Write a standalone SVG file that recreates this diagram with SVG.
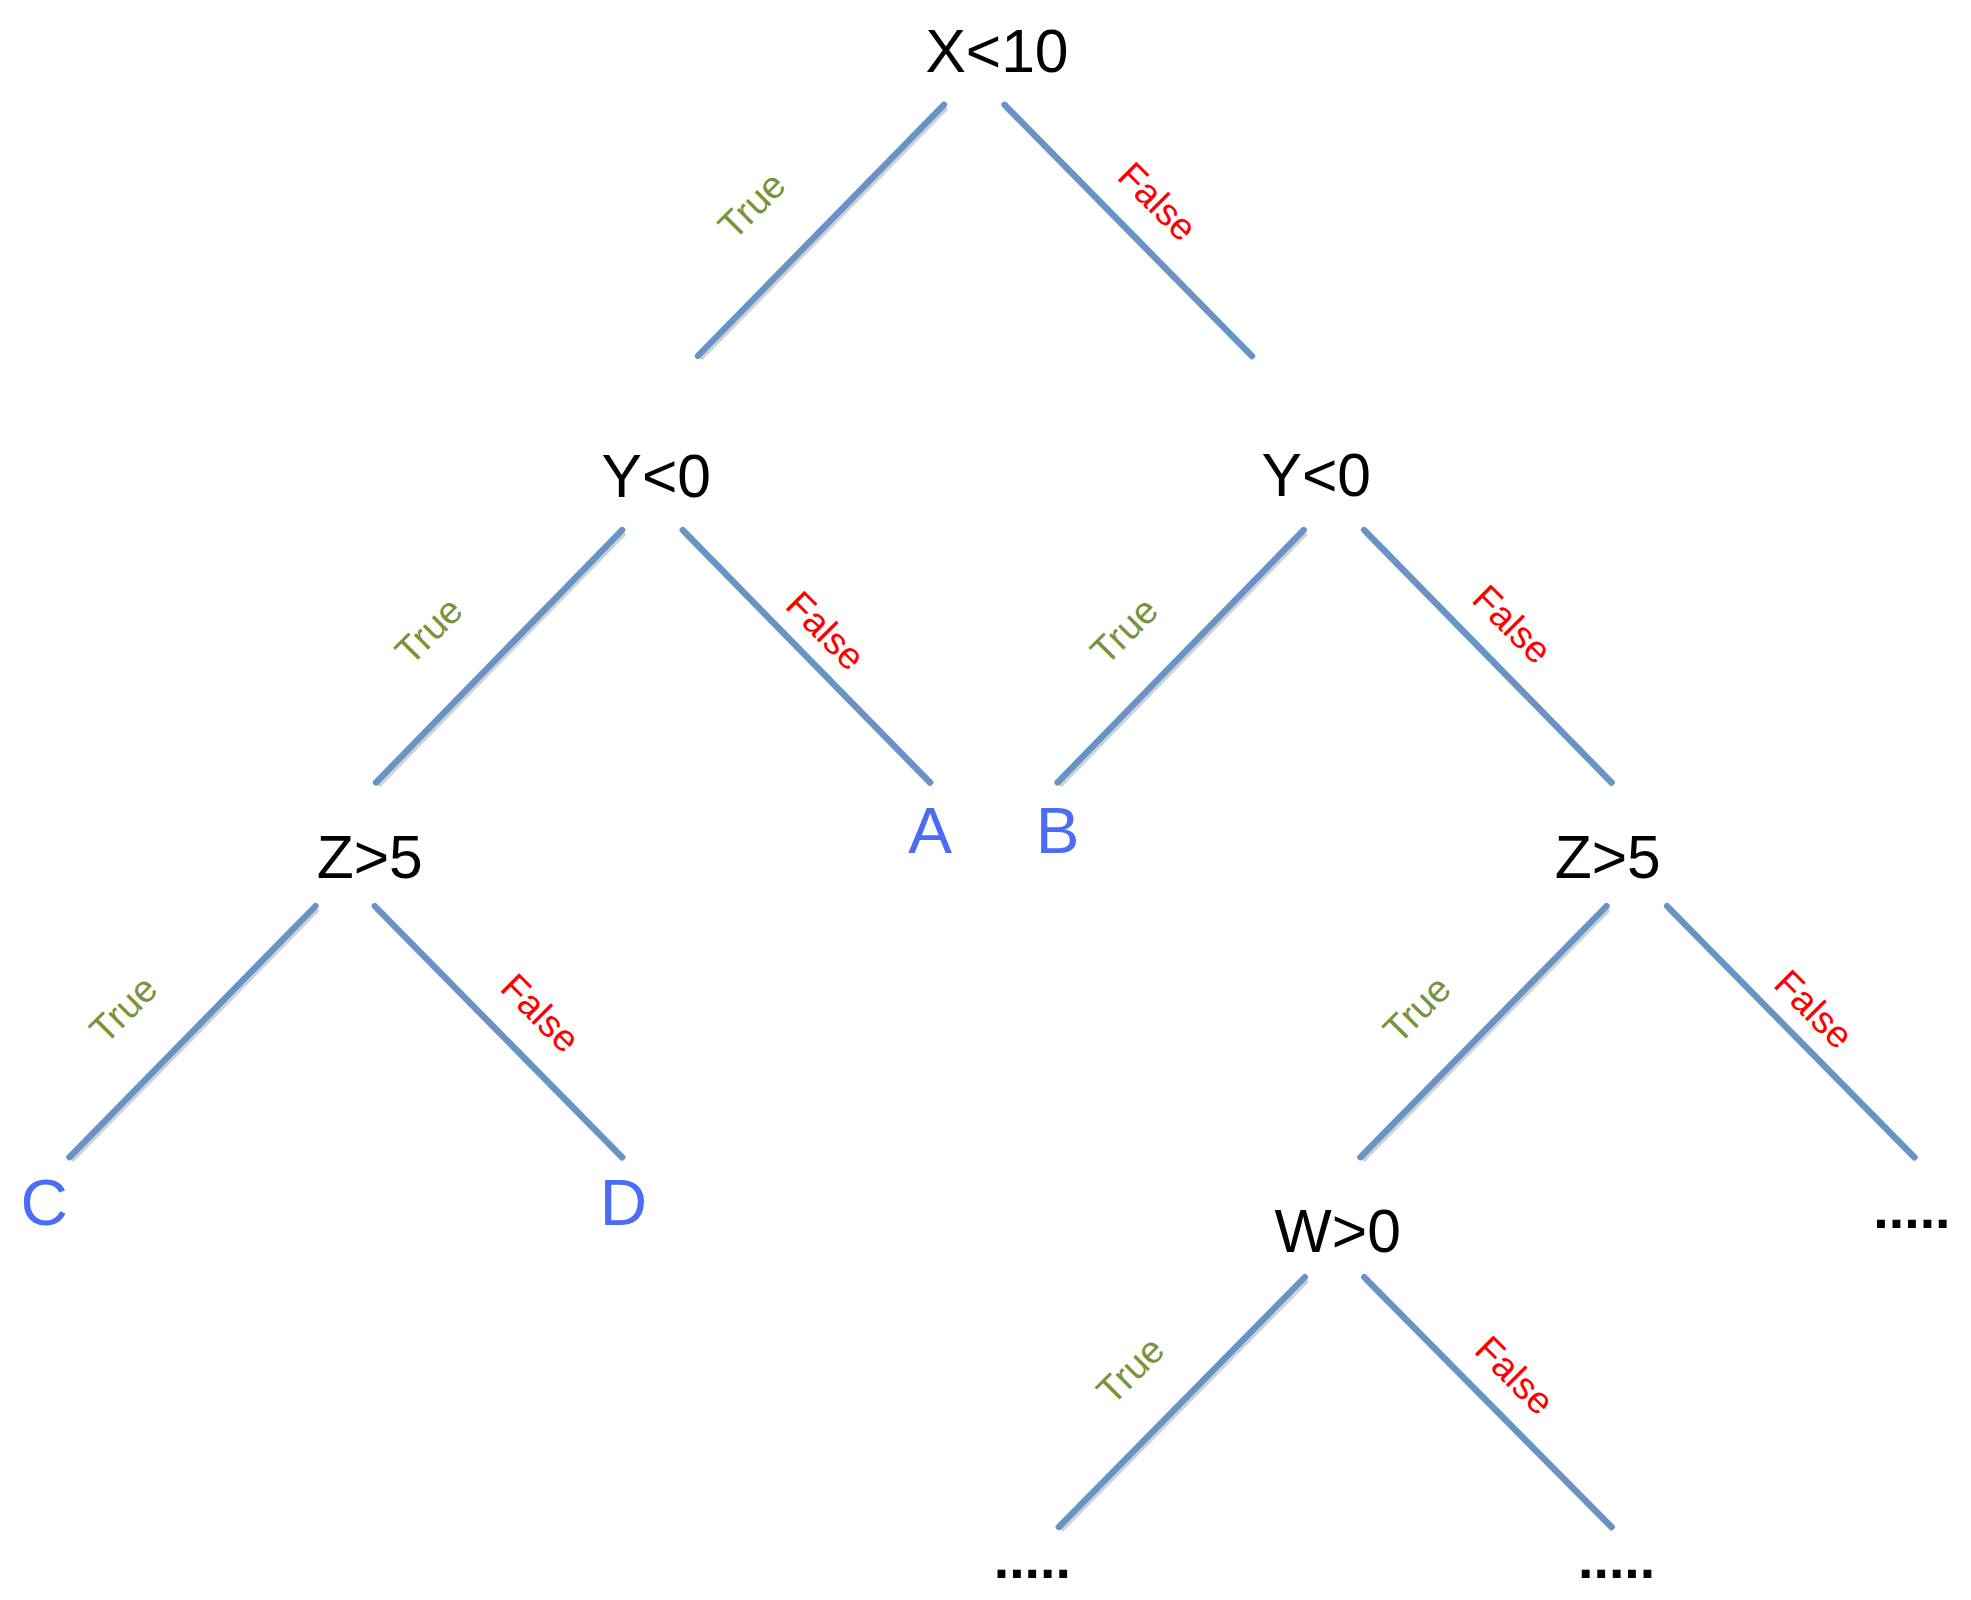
<svg xmlns="http://www.w3.org/2000/svg" width="1971" height="1600" viewBox="0 0 1971 1600">
<style>
.e{stroke:#6893C6;stroke-width:5;stroke-linecap:round}
.sh{stroke:#000;stroke-opacity:0.18;stroke-width:5}
text{font-family:"Liberation Sans","DejaVu Sans",sans-serif;text-anchor:middle}
.n{font-size:48px;fill:#000}
.l{font-size:52px;fill:#4A6CF7}
.t{font-size:30px;fill:#77933C}
.f{font-size:30px;fill:#FF0000}
.d{font-size:44px;fill:#000;font-weight:bold}
</style>
<rect width="1971" height="1600" fill="#fff"/>
<g transform="scale(1.262)">
<g id="connectors">
<g transform="translate(1.5,2)" class="sh">
<line x1="748" y1="83" x2="553" y2="282"/><line x1="796" y1="83" x2="992" y2="282"/>
<line x1="493" y1="420" x2="298" y2="620"/><line x1="541" y1="420" x2="737" y2="620"/>
<line x1="1033" y1="420" x2="838" y2="620"/><line x1="1081" y1="420" x2="1277" y2="620"/>
<line x1="250" y1="718" x2="55" y2="917"/><line x1="297" y1="718" x2="493" y2="917"/>
<line x1="1273" y1="718" x2="1078" y2="917"/><line x1="1321" y1="718" x2="1517" y2="917"/>
<line x1="1034" y1="1012" x2="839" y2="1210"/><line x1="1081" y1="1012" x2="1277" y2="1210"/>
</g>
<g class="e">
<line x1="748" y1="83" x2="553" y2="282"/><line x1="796" y1="83" x2="992" y2="282"/>
<line x1="493" y1="420" x2="298" y2="620"/><line x1="541" y1="420" x2="737" y2="620"/>
<line x1="1033" y1="420" x2="838" y2="620"/><line x1="1081" y1="420" x2="1277" y2="620"/>
<line x1="250" y1="718" x2="55" y2="917"/><line x1="297" y1="718" x2="493" y2="917"/>
<line x1="1273" y1="718" x2="1078" y2="917"/><line x1="1321" y1="718" x2="1517" y2="917"/>
<line x1="1034" y1="1012" x2="839" y2="1210"/><line x1="1081" y1="1012" x2="1277" y2="1210"/>
</g>
<text class="t" transform="translate(603,170) rotate(-45)">True</text>
<text class="f" transform="translate(910,167) rotate(45)">False</text>
<text class="t" transform="translate(347,507) rotate(-45)">True</text>
<text class="f" transform="translate(647,507) rotate(45)">False</text>
<text class="t" transform="translate(898,507) rotate(-45)">True</text>
<text class="f" transform="translate(1191,502) rotate(45)">False</text>
<text class="t" transform="translate(105,807) rotate(-45)">True</text>
<text class="f" transform="translate(421,810) rotate(45)">False</text>
<text class="t" transform="translate(1130,807) rotate(-45)">True</text>
<text class="f" transform="translate(1430,807) rotate(45)">False</text>
<text class="t" transform="translate(903,1093) rotate(-45)">True</text>
<text class="f" transform="translate(1193,1097) rotate(45)">False</text>
</g>
<g id="root"><text class="n" x="790" y="57">X&lt;10</text></g>
<g id="y1"><text class="n" x="520" y="394">Y&lt;0</text></g>
<g id="y2"><text class="n" x="1043" y="393">Y&lt;0</text></g>
<g id="z1"><text class="n" x="293" y="696">Z&gt;5</text></g>
<g id="z2"><text class="n" x="1274" y="696">Z&gt;5</text></g>
<g id="w"><text class="n" x="1060" y="992">W&gt;0</text></g>
<g id="A"><text class="l" x="737" y="676">A</text></g>
<g id="B"><text class="l" x="838" y="676">B</text></g>
<g id="C"><text class="l" x="35" y="971">C</text></g>
<g id="D"><text class="l" x="494" y="971">D</text></g>
<g id="d1"><text class="d" x="1515" y="973">.....</text></g>
<g id="d2"><text class="d" x="818" y="1250">.....</text></g>
<g id="d3"><text class="d" x="1281" y="1250">.....</text></g>
</g>
</svg>
